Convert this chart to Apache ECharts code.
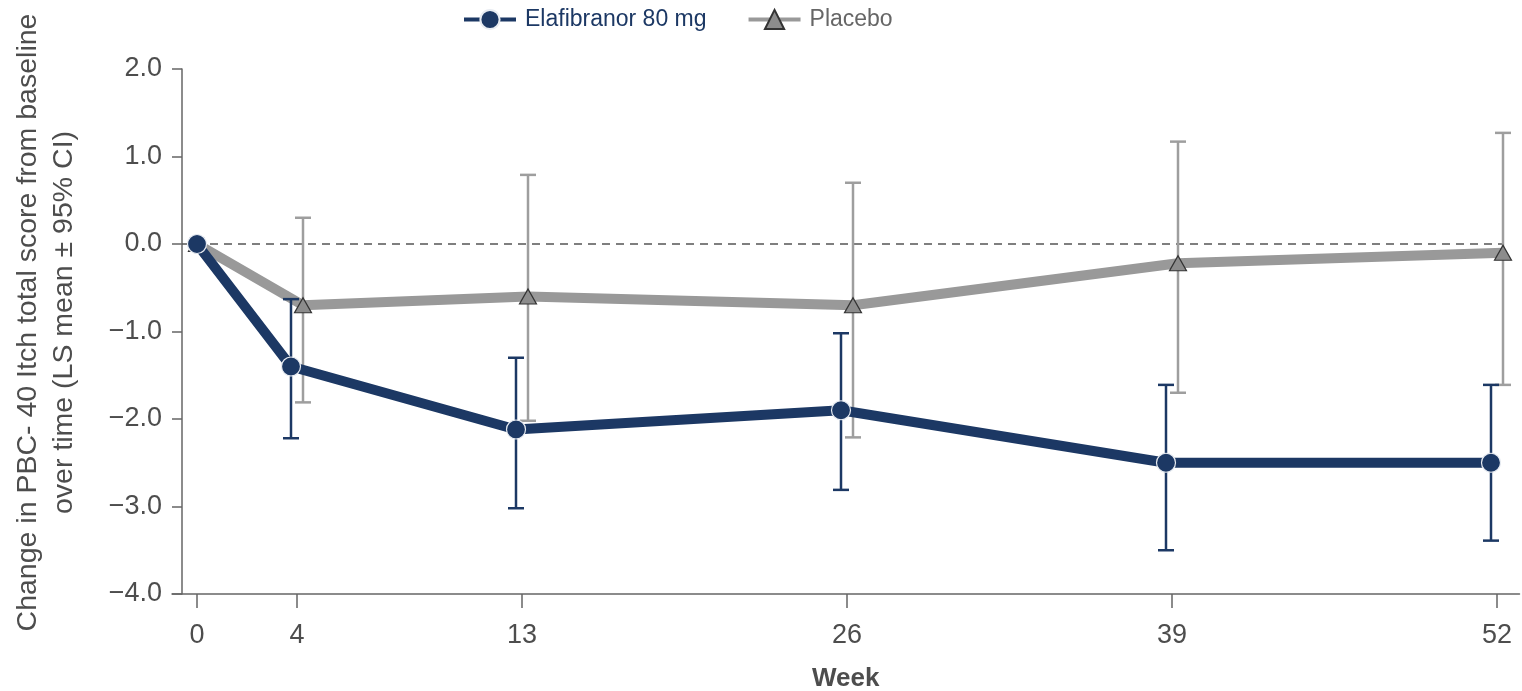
<!DOCTYPE html>
<html>
<head>
<meta charset="utf-8">
<script src="https://cdn.jsdelivr.net/npm/echarts@6/dist/echarts.min.js"></script>
<style>
  html, body { margin: 0; padding: 0; background: #fff; }
  #chart { width: 1522px; height: 691px; }
</style>
</head>
<body>
<div id="chart"></div>
<script>
// Visit weeks and the tick labels shown on the x axis
const weeks = [0, 4, 13, 26, 39, 52];
const xTicks = [0, 4, 13, 26, 39, 52];

// Elafibranor 80 mg: LS mean change and 95% CI
const elafMean = [0, -1.4, -2.12, -1.9, -2.5, -2.5];
const elafLow  = [null, -2.22, -3.02, -2.81, -3.5, -3.39];
const elafHigh = [null, -0.63, -1.3, -1.02, -1.61, -1.61];

// Placebo: LS mean change and 95% CI
const placeboMean = [0, -0.7, -0.6, -0.7, -0.22, -0.1];
const placeboLow  = [null, -1.81, -2.02, -2.21, -1.7, -1.61];
const placeboHigh = [null, 0.3, 0.79, 0.7, 1.17, 1.27];

const NAVY = '#1c3864';
const GREY = '#999999';
const TEXT = '#4d4d4d';
const FONT = 'Liberation Sans, Arial, sans-serif';

// Groups are nudged apart horizontally so the whiskers do not overlap
const DODGE = 0.24;
const X_MIN = -1.0, X_MAX = 52.9;
// the y axis is drawn 10px right of the grid's left edge (0.4 week)
const Y_AXIS_AT = -0.6;

function shiftX(w, dir) { return w === 0 ? 0 : w + dir * DODGE; }

const elafPts = weeks.map((w, i) => [shiftX(w, -1), elafMean[i]]);
const placeboPts = weeks.map((w, i) => [shiftX(w, 1), placeboMean[i]]);
const elafCI = weeks.map((w, i) => [shiftX(w, -1), elafLow[i], elafHigh[i]]).filter(d => d[1] !== null);
const placeboCI = weeks.map((w, i) => [shiftX(w, 1), placeboLow[i], placeboHigh[i]]).filter(d => d[1] !== null);

function errorBars(color, width) {
  return function (params, api) {
    const x = api.value(0);
    const lo = api.coord([x, api.value(1)]);
    const hi = api.coord([x, api.value(2)]);
    const cap = 8;
    const style = { stroke: color, lineWidth: width, fill: null };
    return {
      type: 'group',
      children: [
        { type: 'line', shape: { x1: lo[0], y1: lo[1], x2: hi[0], y2: hi[1] }, style },
        { type: 'line', shape: { x1: lo[0] - cap, y1: lo[1], x2: lo[0] + cap, y2: lo[1] }, style },
        { type: 'line', shape: { x1: hi[0] - cap, y1: hi[1], x2: hi[0] + cap, y2: hi[1] }, style }
      ]
    };
  };
}

const chart = echarts.init(document.getElementById('chart'), null, { renderer: 'canvas' });

chart.setOption({
  backgroundColor: '#ffffff',
  animation: false,
  textStyle: { fontFamily: FONT },
  grid: { left: 172, right: 2.5, top: 69, bottom: 97, containLabel: false, outerBoundsMode: 'none' },
  legend: {
    left: 457,
    top: 3,
    itemWidth: 52,
    itemHeight: 24,
    itemGap: 40,
    textStyle: { fontFamily: FONT, fontSize: 23, padding: [0, 0, 0, 4] },
    data: [
      {
        name: 'Elafibranor 80 mg',
        lineStyle: { color: NAVY, width: 4 },
        textStyle: { color: NAVY }
      },
      {
        name: 'Placebo',
        lineStyle: { color: GREY, width: 4 },
        textStyle: { color: '#666666' }
      }
    ]
  },
  xAxis: {
    type: 'value',
    min: X_MIN,
    max: X_MAX,
    name: 'Week',
    nameLocation: 'middle',
    nameGap: 72,
    nameTextStyle: { fontFamily: FONT, fontSize: 26, fontWeight: 'bold', color: TEXT },
    splitLine: { show: false },
    axisLine: { show: true, onZero: false, lineStyle: { color: '#666', width: 1.5 } },
    axisTick: { show: true, length: 14, customValues: xTicks, lineStyle: { color: '#666', width: 1.5 } },
    axisLabel: { customValues: xTicks, fontSize: 27, color: TEXT, margin: 28, fontFamily: FONT }
  },
  yAxis: {
    type: 'value',
    min: -4,
    max: 2,
    interval: 1,
    offset: -10,
    name: 'Change in PBC- 40 Itch total score from baseline\nover time (LS mean \u00b1 95% CI)',
    nameLocation: 'middle',
    nameGap: 100,
    nameRotate: 90,
    nameTextStyle: { fontFamily: FONT, fontSize: 28.5, color: TEXT, lineHeight: 36, padding: [0, 0, 0, 18] },
    splitLine: { show: false },
    axisLine: { show: true, onZero: false, lineStyle: { color: '#666', width: 1.5 } },
    axisTick: { show: true, length: 10, lineStyle: { color: '#666', width: 1.5 } },
    axisLabel: {
      fontSize: 27, color: TEXT, margin: 20, fontFamily: FONT,
      formatter: v => (v < 0 ? '\u2212' : '') + Math.abs(v).toFixed(1)
    }
  },
  series: [
    {
      // zero reference line
      name: 'ref',
      type: 'line',
      data: [[Y_AXIS_AT, 0], [weeks[weeks.length - 1] + DODGE, 0]],
      symbol: 'none',
      silent: true,
      lineStyle: { color: '#555', width: 1.3, type: [8, 6] },
      z: 1
    },
    {
      name: 'Placebo CI',
      type: 'custom',
      renderItem: errorBars('#9e9e9e', 2.5),
      data: placeboCI,
      encode: { x: 0, y: [1, 2] },
      z: 2
    },
    {
      name: 'Placebo',
      type: 'line',
      data: placeboPts,
      symbol: 'triangle',
      symbolSize: [17, 15],
      itemStyle: { color: '#8c8c8c', borderColor: '#333', borderWidth: 1.2 },
      lineStyle: { color: GREY, width: 10 },
      z: 3
    },
    {
      name: 'Elafibranor CI',
      type: 'custom',
      renderItem: errorBars(NAVY, 2.5),
      data: elafCI,
      encode: { x: 0, y: [1, 2] },
      z: 4
    },
    {
      name: 'Elafibranor 80 mg',
      type: 'line',
      data: elafPts,
      symbol: 'circle',
      symbolSize: 19,
      itemStyle: { color: NAVY, borderColor: '#e8ecf2', borderWidth: 1.2 },
      lineStyle: { color: NAVY, width: 10 },
      z: 5
    }
  ]
});
</script>
</body>
</html>
